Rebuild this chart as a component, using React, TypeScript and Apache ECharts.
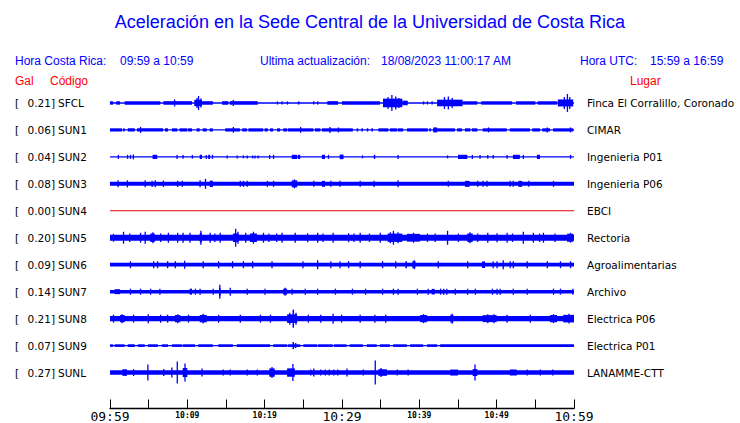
import React, { useEffect, useRef } from "react";
import * as echarts from "echarts";

// ---------- data ----------
const timeTickLabels = ["09:59", "", "10:09", "", "10:19", "", "10:29", "", "10:39", "", "10:49", "", "10:59"];
const stationCodes = ["SFCL", "SUN1", "SUN2", "SUN3", "SUN4", "SUN5", "SUN6", "SUN7", "SUN8", "SUN9", "SUNL"];
const galValues = [0.21, 0.06, 0.04, 0.08, 0.0, 0.2, 0.09, 0.14, 0.21, 0.07, 0.27];
const places = [
  "Finca El Corralillo, Coronado", "CIMAR", "Ingenieria P01", "Ingenieria P06", "EBCI", "Rectoria",
  "Agroalimentarias", "Archivo", "Electrica P06", "Electrica P01", "LANAMME-CTT",
];
// continuous background amplitude of each trace (half height, trace units)
const baseAmplitude = [0.7, 0.7, 0.6, 2.0, 0.5, 3.1, 1.9, 1.8, 2.7, 0.6, 2.3];

// [start minute, end minute, half amplitude]
const sfclBursts = [
  [0, 0.4, 1.7], [0.8, 1.3, 1.7], [1.9, 6.5, 1.8], [6.9, 8.4, 1.8], [8.3, 8.4, 3.5], [8.4, 10.6, 1.8],
  [10.9, 11.9, 3.2], [11.2, 11.3, 5], [11.4, 11.5, 7], [11.7, 11.8, 4.5], [11.9, 13.3, 1.8],
  [14.5, 15.3, 1.8], [15.5, 19.1, 1.8], [15.9, 16.0, 3], [21.6, 21.7, 1.6], [22.2, 22.3, 1.6],
  [22.9, 23.0, 1.6], [24.3, 24.5, 1.6], [26.3, 26.4, 1.6], [26.8, 26.9, 1.6], [28.1, 29.5, 1.8],
  [30.0, 34.9, 1.8], [35.3, 37.8, 4.3], [35.9, 36.0, 6], [36.4, 36.5, 8], [36.9, 37.0, 6.5],
  [37.3, 37.4, 5], [37.8, 38.5, 2.3], [40.5, 40.6, 1.6], [41.0, 41.1, 1.6], [41.6, 41.7, 1.6],
  [42.3, 45.6, 3.3], [43.2, 43.3, 6], [43.7, 43.8, 6.5], [44.2, 44.3, 5], [45.6, 47.5, 1.7],
  [48, 52, 1.7], [52.5, 55, 1.7], [55.3, 57.8, 1.7], [57.9, 59.9, 3.5], [58.7, 58.8, 6],
  [59.1, 59.2, 9], [59.4, 59.5, 6],
];
const sun1Bursts = [
  [0, 1.55, 1.6], [1.7, 1.9, 1.6], [2.3, 3.2, 1.6], [3.5, 6.85, 1.6], [3.9, 4.0, 3], [7.1, 7.5, 1.6],
  [8.0, 8.7, 1.6], [9.0, 10.0, 1.6], [10.1, 10.6, 1.6], [11.2, 11.6, 1.6], [12.0, 12.5, 1.6],
  [12.9, 13.3, 1.6], [14.9, 16.8, 1.6], [15.9, 16.0, 2.8], [17.1, 17.7, 1.6], [17.9, 19.8, 1.6],
  [20.0, 20.4, 1.6], [20.7, 21.1, 1.6], [21.6, 22.0, 1.6], [22.4, 22.9, 1.6], [23.0, 26.3, 1.6],
  [24.6, 24.7, 3], [26.5, 27.2, 1.6], [27.4, 31.4, 1.6], [28.4, 28.5, 3], [29.5, 29.6, 2.5],
  [31.9, 32.1, 1.6], [32.5, 32.7, 1.6], [33.2, 33.4, 1.6], [33.8, 34.0, 1.6], [34.7, 36.0, 1.6],
  [36.2, 37.1, 1.6], [37.2, 37.9, 1.6], [38.4, 41.1, 1.6], [41.3, 41.5, 1.6], [41.8, 44.6, 1.6],
  [41.8, 42.3, 2.5], [44.9, 45.5, 1.6], [45.9, 46.6, 1.6], [46.8, 47.5, 1.6], [48.2, 51.3, 1.6],
  [48.9, 49.0, 2.5], [51.7, 54.3, 1.6], [54.6, 55.6, 1.6], [55.9, 56.9, 1.6], [56.5, 56.6, 2.5],
  [57.3, 59.9, 1.6], [59.5, 59.6, 2.5],
];
const sun2Bursts = [
  [1.0, 1.15, 2], [2.2, 2.35, 2], [2.6, 2.7, 2], [2.95, 3.1, 2.5], [5.5, 6.1, 2.1], [8.6, 8.75, 2],
  [9.4, 9.5, 1.8], [10.6, 10.7, 1.8], [11.6, 11.9, 2.1], [12.4, 12.5, 2], [12.7, 12.95, 2.1],
  [13.2, 13.3, 2], [15.1, 15.2, 1.5], [16.4, 16.5, 1.5], [17.2, 17.3, 1.5], [17.7, 17.8, 1.5],
  [18.4, 18.5, 1.5], [18.7, 18.8, 1.5], [19.1, 19.2, 1.5], [20.6, 20.7, 2], [21.1, 21.2, 2],
  [23.5, 24.2, 2.1], [24.3, 24.6, 2.1], [27.4, 27.8, 2.1], [28.2, 28.3, 2], [29.7, 30.2, 2.3],
  [32.6, 32.7, 1.5], [34.1, 34.3, 2], [37.2, 37.3, 2], [43.6, 43.7, 1.5], [45.0, 46.2, 2.1],
  [46.8, 46.9, 2], [47.8, 47.9, 1.8], [48.8, 48.9, 1.8], [49.5, 49.6, 1.8], [51.3, 51.4, 1.8],
  [52.1, 53.0, 2.1], [53.4, 53.5, 2], [55.2, 55.6, 2.1], [59.5, 59.6, 2],
];
const sun3Bursts = [
  [1.0, 1.1, 3.5], [2.2, 2.3, 3.5], [4.5, 4.6, 3.5], [5.4, 5.5, 3.2], [5.8, 5.9, 3.5], [6.85, 6.95, 3.2],
  [8.7, 8.8, 3.2], [9.3, 9.4, 3], [11.6, 11.7, 3.5], [12.3, 12.4, 5], [12.9, 13.3, 3.2], [16.8, 16.9, 3],
  [17.2, 17.3, 3], [17.7, 17.8, 3], [20.3, 20.4, 3], [21.1, 21.2, 3], [23.5, 24.2, 3.5], [23.8, 23.9, 4.5],
  [26.3, 26.4, 3], [27.4, 27.8, 3], [28.5, 28.6, 3], [29.7, 29.8, 3], [32.3, 32.4, 3], [34.1, 34.2, 3.2],
  [37.2, 37.3, 3.5], [43.7, 43.8, 3], [45.9, 46.5, 3], [47.5, 47.6, 3], [48.2, 48.3, 3], [48.7, 48.8, 3],
  [51.7, 51.8, 3], [52.1, 52.2, 3], [52.8, 53.3, 3], [54.1, 54.2, 3], [57.3, 57.4, 3],
];
const sun4Bursts: number[][] = [];
const sun5Bursts = [
  [0.4, 0.5, 4], [1.7, 1.8, 6], [2.5, 2.6, 4.2], [3.9, 4.0, 5], [4.5, 4.6, 6], [5.2, 5.8, 4.2],
  [5.5, 5.6, 5.5], [6.5, 6.6, 4.2], [7.5, 7.6, 5], [8.7, 8.8, 5], [9.4, 9.5, 5], [10.3, 10.4, 5],
  [11.6, 11.9, 4.5], [11.7, 11.8, 7], [12.9, 13.0, 5], [13.5, 13.6, 4.2], [14.2, 14.3, 5],
  [15.9, 16.6, 4.3], [16.2, 16.3, 9], [16.5, 16.6, 6], [17.5, 17.6, 5], [18.1, 19.0, 4.3],
  [18.5, 18.6, 6], [19.8, 19.9, 5], [20.5, 20.6, 4.2], [21.5, 21.6, 4.2], [22.2, 22.3, 5],
  [23.9, 24.0, 5], [25.5, 25.6, 4.5], [26.8, 26.9, 5], [27.5, 27.6, 4.2], [28.8, 28.9, 5],
  [30.8, 30.9, 4.5], [31.5, 31.6, 4.2], [32.3, 32.4, 5], [33.5, 33.6, 4.2], [34.9, 35.0, 5],
  [35.9, 37.8, 4.2], [36.2, 36.3, 5.5], [36.6, 36.7, 7], [37.2, 37.3, 5.5], [38.4, 40.1, 3.9],
  [39.2, 39.3, 5], [41.0, 41.1, 4.2], [42.0, 42.1, 4.2], [43.6, 43.7, 7], [45.0, 45.1, 4.2],
  [46.2, 46.9, 4.3], [46.5, 46.6, 5.5], [47.5, 47.6, 4.2], [48.8, 48.9, 5], [50.0, 50.1, 4.5],
  [51.3, 51.4, 5], [52.0, 52.1, 4.2], [53.4, 53.5, 6], [54.7, 54.8, 5], [55.5, 55.6, 4.2],
  [56.0, 56.1, 5], [57.5, 57.6, 4.2], [59.1, 59.9, 4], [59.5, 59.6, 5],
];
const sun6Bursts = [
  [2.6, 2.7, 3.5], [5.6, 5.7, 3.5], [6.1, 6.2, 3.5], [7.4, 7.5, 3.5], [8.4, 8.5, 3.5], [9.6, 9.7, 4],
  [12.0, 12.1, 3.5], [14.0, 14.1, 3.5], [15.8, 15.9, 3.5], [17.2, 17.3, 3.5], [18.4, 18.5, 3.5],
  [20.9, 21.0, 3.5], [24.9, 25.0, 3.5], [26.8, 26.9, 4.5], [28.5, 28.6, 3.5], [29.7, 29.8, 3.5],
  [30.8, 30.9, 3.5], [32.3, 32.4, 3.5], [35.2, 35.3, 3.5], [36.9, 37.0, 3.5], [38.2, 38.4, 3.5],
  [39.1, 39.5, 3.5], [39.3, 39.4, 4.5], [42.4, 42.5, 3.5], [46.2, 46.3, 3.5], [48.1, 48.5, 3.3],
  [49.5, 49.6, 3.5], [50.0, 50.1, 3.5], [50.8, 50.9, 4.5], [51.7, 51.8, 3.5], [52.1, 52.2, 3.5],
  [53.9, 54.0, 3.5], [56.5, 56.6, 3.5], [58.2, 58.3, 3.5], [59.5, 59.6, 3.5],
];
const sun7Bursts = [
  [0.6, 1.3, 2.5], [2.6, 2.7, 3], [3.9, 4.0, 3], [5.2, 5.3, 3], [6.4, 6.5, 3], [10.3, 10.6, 3],
  [11.0, 11.1, 3], [11.6, 11.7, 3], [13.3, 13.4, 3], [14.1, 14.3, 4], [14.15, 14.25, 7], [15.5, 15.6, 4],
  [17.7, 17.8, 3], [20.0, 20.1, 3], [22.4, 22.9, 3], [22.6, 22.7, 4], [23.5, 23.6, 3], [25.2, 25.3, 3],
  [26.8, 26.9, 3], [29.1, 29.2, 3], [31.3, 31.4, 3], [33.0, 33.1, 3], [35.2, 35.3, 3], [36.6, 36.7, 3],
  [37.2, 37.3, 3], [39.7, 39.8, 3], [41.1, 41.2, 3], [41.6, 42.0, 2.8], [42.7, 42.8, 3], [43.1, 43.2, 3],
  [43.5, 43.6, 3], [44.6, 44.7, 3], [46.2, 46.3, 3], [47.2, 47.3, 3], [49.4, 49.5, 3], [50.0, 50.1, 3],
  [50.4, 50.5, 3], [52.1, 52.2, 3], [53.9, 54.0, 3], [57.3, 57.4, 3], [58.2, 58.3, 3], [59.8, 59.9, 3],
];
const sun8Bursts = [
  [0.4, 0.5, 4], [1.3, 1.9, 3.6], [1.5, 1.6, 4.5], [3.0, 3.1, 4], [4.9, 5.0, 4.5], [6.5, 6.6, 4],
  [7.4, 7.5, 4], [8.4, 9.1, 3.6], [8.7, 8.8, 4.5], [10.1, 10.2, 4], [11.6, 12.5, 3.7], [12.0, 12.1, 4.8],
  [14.0, 14.1, 4], [16.8, 16.9, 4], [19.4, 19.5, 4], [20.7, 20.8, 4], [22.9, 24.2, 4.3], [23.2, 23.3, 6],
  [23.6, 23.8, 9], [24.0, 24.1, 6], [25.6, 25.7, 4], [27.2, 27.3, 4], [28.8, 28.9, 5], [29.9, 30.0, 4],
  [32.3, 32.4, 4], [34.2, 34.3, 4], [35.6, 35.7, 4], [40.1, 41.0, 3.6], [40.5, 40.6, 4.5],
  [44.0, 44.4, 3.8], [44.2, 44.3, 5], [48.2, 50.0, 3.5], [48.8, 48.9, 4.5], [49.6, 49.7, 4.5],
  [51.3, 51.4, 4], [54.3, 54.4, 4], [56.9, 57.8, 3.6], [57.3, 57.4, 4.5], [58.6, 60, 3.8], [59.3, 59.4, 4.8],
];
const sun9Bursts = [
  [0, 0.4, 1.3], [0.6, 1.9, 1.3], [2.3, 3.2, 1.3], [3.6, 4.5, 1.3], [4.9, 6.2, 1.3], [6.7, 7.5, 1.3],
  [8.0, 9.3, 1.3], [9.4, 11.0, 1.3], [11.4, 13.3, 1.3], [14.0, 15.9, 1.3], [16.4, 20.7, 1.3],
  [21.1, 22.9, 1.3], [23.0, 24.6, 1.3], [23.6, 23.8, 3.5], [23.9, 24.1, 2.5], [25.0, 26.8, 1.3],
  [26.9, 28.8, 1.3], [28.95, 30.6, 1.3], [31.0, 32.7, 1.3], [33.2, 34.5, 1.3], [34.9, 36.2, 1.3],
  [36.6, 38.4, 1.3], [38.8, 40.5, 1.3], [41.0, 42.3, 1.3], [42.7, 60, 1.3],
];
const sunlBursts = [
  [1.6, 2.2, 3.3], [3.0, 3.1, 3.5], [4.85, 4.95, 8], [6.9, 7.0, 3.5], [7.95, 8.05, 5], [8.65, 8.75, 11],
  [9.4, 10.0, 4.5], [9.65, 9.75, 9], [11.85, 11.95, 4], [14.6, 14.7, 3], [15.5, 15.6, 3], [17.7, 17.8, 3],
  [19.0, 19.1, 3], [20.6, 21.3, 4.2], [20.9, 21.0, 5.5], [22.9, 23.9, 4.2], [23.6, 23.7, 8.5],
  [25.9, 26.0, 3], [26.3, 26.4, 4], [27.2, 27.3, 3], [27.8, 27.9, 3], [28.3, 28.4, 3], [28.9, 29.0, 3],
  [29.4, 29.5, 3], [30.6, 30.7, 4], [32.7, 32.8, 3], [34.25, 34.35, 12], [34.7, 35.8, 3.3],
  [35.0, 35.1, 4.5], [37.1, 37.2, 3], [38.5, 38.6, 3], [44.0, 45.0, 3], [46.9, 47.5, 3.5],
  [47.15, 47.25, 8], [51.7, 52.6, 3], [53.9, 54.0, 3], [55.6, 55.7, 3], [57.2, 57.3, 3],
];
const stationBursts = [
  sfclBursts, sun1Bursts, sun2Bursts, sun3Bursts, sun4Bursts, sun5Bursts,
  sun6Bursts, sun7Bursts, sun8Bursts, sun9Bursts, sunlBursts,
];

// ---------- style / layout constants ----------
const SPACING = 27;
const BLUE = "#0000ff";
const RED_LINE = "#dd0000";
const RED_TEXT = "#ff0000";
const TITLE_FONT = "Liberation Sans, Arial, sans-serif";
const LABEL_FONT = "DejaVu Sans, sans-serif";

export default function App() {
  const ref = useRef<HTMLDivElement>(null);

  useEffect(() => {
    if (!ref.current) return;
    const chart = echarts.init(ref.current, undefined, { renderer: "svg" });

    const items: number[][] = [];
    stationCodes.forEach((_, s) => {
      items.push([0, 60, s, baseAmplitude[s]]);
      stationBursts[s].forEach((b) => items.push([b[0], b[1], s, b[2]]));
    });

    chart.setOption({
      animation: false,
      grid: { left: 110, right: 166, top: 76, bottom: 14, containLabel: false },
      xAxis: {
        type: "value",
        min: 0,
        max: 60,
        interval: 5,
        splitLine: { show: false },
        axisLine: { show: true, onZero: false, lineStyle: { color: "#000", width: 1.3 } },
        axisTick: { show: true, inside: true, length: 9, lineStyle: { color: "#000", width: 1 } },
        axisLabel: {
          margin: 1,
          showMinLabel: true,
          showMaxLabel: true,
          hideOverlap: false,
          formatter: (v: number) => {
            const s = timeTickLabels[Math.round(v / 5)];
            if (!s) return "";
            return v % 30 === 0 ? `{big|${s}}` : `{small|${s}}`;
          },
          rich: {
            big: { fontFamily: "DejaVu Sans Mono, monospace", fontSize: 13, color: "#000", lineHeight: 14 },
            small: { fontFamily: "DejaVu Sans Mono, monospace", fontSize: 8, fontWeight: "bold", color: "#000", lineHeight: 12 },
          },
        },
      },
      yAxis: {
        type: "value",
        min: -SPACING,
        max: (stationCodes.length - 1) * SPACING + 36,
        inverse: true,
        show: false,
        splitLine: { show: false },
      },
      series: [
        {
          type: "custom",
          coordinateSystem: "cartesian2d",
          encode: { x: [0, 1], y: 2 },
          data: items,
          clip: false,
          renderItem: (_params: any, api: any) => {
            const t0 = api.value(0);
            const t1 = api.value(1);
            const s = api.value(2);
            const a = api.value(3);
            const p0 = api.coord([t0, s * SPACING]);
            const p1 = api.coord([t1, s * SPACING]);
            const h = Math.abs(api.size([0, a])[1]);
            let w = p1[0] - p0[0];
            let x = p0[0];
            if (w < 1.3) {
              x = (p0[0] + p1[0]) / 2 - 0.65;
              w = 1.3;
            }
            return {
              type: "rect",
              shape: { x, y: p0[1] - h, width: w, height: Math.max(2 * h, 1) },
              style: { fill: s === 4 ? RED_LINE : BLUE },
            };
          },
        },
      ],
    });

    const graphic: any[] = [
      {
        type: "text",
        style: {
          text: "Aceleración en la Sede Central de la Universidad de Costa Rica",
          x: 370, y: 22, align: "center", verticalAlign: "middle",
          font: `18px ${TITLE_FONT}`, fill: BLUE,
        },
      },
    ];
    const header: [string, number, number, string][] = [
      ["Hora Costa Rica:", 15, 61, BLUE],
      ["09:59 a 10:59", 120, 61, BLUE],
      ["Ultima actualización:", 260, 61, BLUE],
      ["18/08/2023 11:00:17 AM", 381, 61, BLUE],
      ["Hora UTC:", 580, 61, BLUE],
      ["15:59 a 16:59", 650, 61, BLUE],
      ["Gal", 15, 81, RED_TEXT],
      ["Código", 50, 81, RED_TEXT],
      ["Lugar", 630, 81, RED_TEXT],
    ];
    header.forEach(([t, x, y, c]) =>
      graphic.push({
        type: "text",
        style: { text: t, x, y, align: "left", verticalAlign: "middle", font: `12px ${TITLE_FONT}`, fill: c },
      })
    );
    stationCodes.forEach((code, s) => {
      const y = chart.convertToPixel({ yAxisIndex: 0 }, s * SPACING) as number;
      const f = `10.5px ${LABEL_FONT}`;
      graphic.push(
        { type: "text", style: { text: "[", x: 15, y, align: "left", verticalAlign: "middle", font: f, fill: "#000" } },
        { type: "text", style: { text: `${galValues[s].toFixed(2)}]`, x: 55, y, align: "right", verticalAlign: "middle", font: f, fill: "#000" } },
        { type: "text", style: { text: code, x: 58, y, align: "left", verticalAlign: "middle", font: f, fill: "#000" } },
        { type: "text", style: { text: places[s], x: 587, y, align: "left", verticalAlign: "middle", font: f, fill: "#000" } }
      );
    });
    chart.setOption({ graphic });

    return () => chart.dispose();
  }, []);

  return (
    <div
      ref={ref}
      style={{ position: "fixed", left: 0, top: 0, width: 740, height: 423, background: "#fff" }}
    />
  );
}
